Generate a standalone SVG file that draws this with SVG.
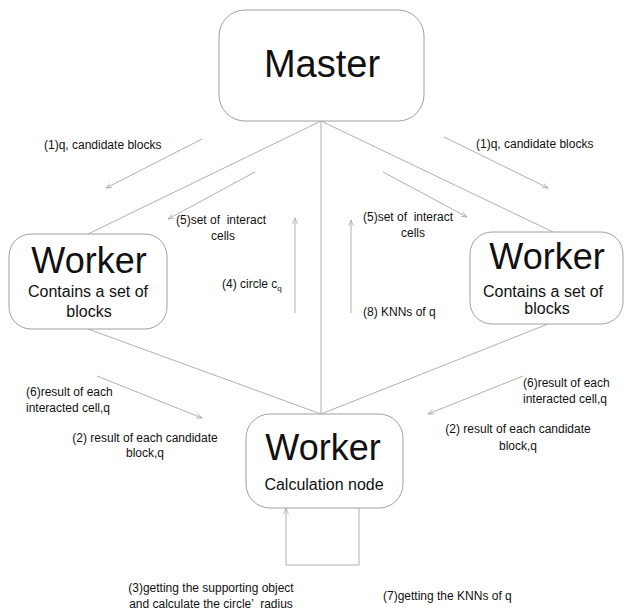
<svg xmlns="http://www.w3.org/2000/svg" width="624" height="613" viewBox="0 0 624 613">
<defs>
<marker id="ah" viewBox="0 0 10 10" refX="10" refY="5" markerWidth="6" markerHeight="6" orient="auto" markerUnits="userSpaceOnUse">
<path d="M0,1 L10,5 L0,9" fill="none" stroke="#a6a6a6" stroke-width="1.2"/>
</marker>
<style>
.box{fill:#fff;stroke:#a0a0a0;stroke-width:1}
.ln{fill:none;stroke:#b0b0b0;stroke-width:1}
.ar{fill:none;stroke:#b0b0b0;stroke-width:1;marker-end:url(#ah)}
text{font-family:"Liberation Sans",Arial,sans-serif;fill:#111}
.big{font-size:36px;text-anchor:middle}
.mid{font-size:16px;text-anchor:middle}
.sm{font-size:12px}
.smc{font-size:12px;text-anchor:middle}
</style>
</defs>
<rect width="624" height="613" fill="#fff"/>
<g id="connectors">
<line class="ln" x1="321" y1="121" x2="88" y2="234"/>
<line class="ln" x1="321" y1="121" x2="553" y2="232"/>
<line class="ln" x1="321" y1="121" x2="321" y2="414"/>
<line class="ln" x1="88" y1="329" x2="321" y2="414"/>
<line class="ln" x1="548" y1="324" x2="321" y2="414"/>
<path class="ar" d="M359,508 V565 H286 V508"/>
<line class="ar" x1="202" y1="139" x2="106" y2="188"/>
<line class="ar" x1="444" y1="137" x2="548" y2="188"/>
<line class="ar" x1="255" y1="172" x2="168" y2="219"/>
<line class="ar" x1="383" y1="172" x2="467" y2="217"/>
<line class="ar" x1="295" y1="313" x2="295" y2="218"/>
<line class="ar" x1="351" y1="313" x2="351" y2="220"/>
<line class="ar" x1="97" y1="376" x2="202" y2="418"/>
<line class="ar" x1="523" y1="376" x2="428" y2="414"/>
</g>
<g id="master">
<rect class="box" x="219" y="10" width="205" height="111" rx="26"/>
<text class="big" x="322" y="77" style="font-size:38px">Master</text>
</g>
<g id="worker-left">
<rect class="box" x="9" y="234" width="158" height="95" rx="22"/>
<text class="big" x="89" y="273">Worker</text>
<text class="mid" x="88" y="297">Contains a set of</text>
<text class="mid" x="89" y="317">blocks</text>
</g>
<g id="worker-right">
<rect class="box" x="470" y="232" width="153" height="92" rx="22"/>
<text class="big" x="547" y="269">Worker</text>
<text class="mid" x="543" y="297">Contains a set of</text>
<text class="mid" x="547" y="314">blocks</text>
</g>
<g id="worker-calc">
<rect class="box" x="246" y="414" width="157" height="94" rx="24"/>
<text class="big" x="323" y="460">Worker</text>
<text class="mid" x="324" y="490">Calculation node</text>
</g>
<g id="labels">
<text class="sm" x="44" y="149">(1)q, candidate blocks</text>
<text class="sm" x="476" y="148">(1)q, candidate blocks</text>
<text class="sm" x="176" y="224" xml:space="preserve">(5)set of  interact</text>
<text class="smc" x="223" y="240">cells</text>
<text class="sm" x="363" y="221" xml:space="preserve">(5)set of  interact</text>
<text class="smc" x="413" y="237">cells</text>
<text class="sm" x="222" y="288">(4) circle c<tspan dy="3" font-size="8">q</tspan></text>
<text class="sm" x="363" y="316">(8) KNNs of q</text>
<text class="sm" x="26" y="396">(6)result of each</text>
<text class="sm" x="26" y="412">interacted cell,q</text>
<text class="smc" x="145" y="442">(2) result of each candidate</text>
<text class="smc" x="145" y="457">block,q</text>
<text class="sm" x="523" y="387">(6)result of each</text>
<text class="sm" x="523" y="403">interacted cell,q</text>
<text class="smc" x="518" y="433">(2) result of each candidate</text>
<text class="smc" x="518" y="450">block,q</text>
<text class="smc" x="211" y="592">(3)getting the supporting object</text>
<text class="smc" x="211" y="608" xml:space="preserve">and calculate the circle’  radius</text>
<text class="sm" x="383" y="600">(7)getting the KNNs of q</text>
</g>
</svg>
